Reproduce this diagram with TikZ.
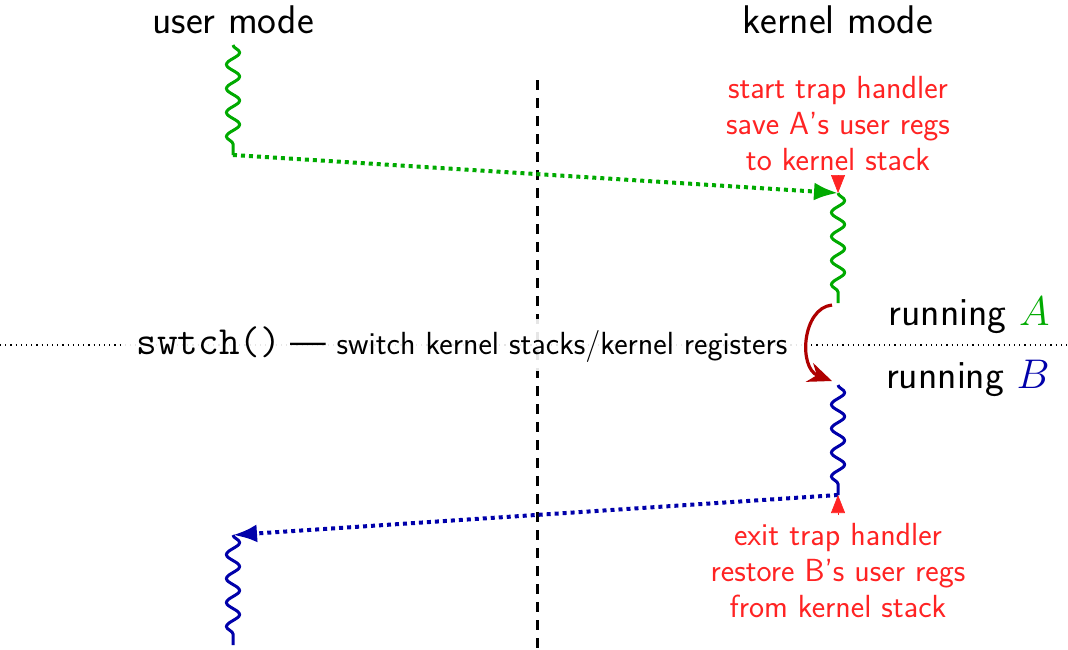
\documentclass[tikz,border=0pt]{standalone}
\usetikzlibrary{decorations.pathmorphing,arrows.meta,calc}
\renewcommand\familydefault{\sfdefault}
\definecolor{ugreen}{RGB}{0,170,0}
\definecolor{ublue}{RGB}{0,0,170}
\definecolor{ured}{RGB}{255,35,35}
\definecolor{dred}{RGB}{175,0,0}
\begin{document}
\begin{tikzpicture}[x=0.5pt,y=-0.5pt,
  big/.style={font=\fontsize{20}{24}\selectfont, inner sep=0pt},
  note/.style={font=\fontsize{16}{18}\selectfont, align=center, text=ured, inner sep=0pt},
  snakeline/.style={line width=1.5pt, decorate, decoration={snake, segment length=12pt, amplitude=3.3pt, post length=1pt}},
  flow/.style={line width=2pt, dotted, -{Latex[length=12pt,width=9pt]}},
  marker/.style={draw=ured, line width=0.3pt, -{Triangle[length=9pt,width=7pt,fill=ured]}}
]
\useasboundingbox (0,0) rectangle (1068,649);

% headings
\node[big] (user) at (233,20) {user mode};
\node[big] (kern) at (838,20) {kernel mode};

% separator
\coordinate (sepL) at (0,345);
\coordinate (sepR) at (1068,345);
\draw[line width=0.6pt, dotted, black] (sepL) -- (sepR);

% mode boundary
\coordinate (bt) at (537,80);
\coordinate (bb) at (537,649);
\draw[line width=1.5pt, dash pattern=on 5pt off 4pt] (bt) -- (bb);

% swtch label
\node[big, fill=white, fill opacity=0.9, text opacity=1, inner xsep=8pt, inner ysep=4pt] (sw) at (462,345)
  {\texttt{swtch()}{\fontsize{16}{18}\selectfont\ \fontsize{19}{18}\selectfont---\fontsize{16}{18}\selectfont\ switch kernel stacks/kernel registers}};

% running labels
\node[big, anchor=east] (ra) at (1050,315) {running \textcolor{ugreen}{$A$}};
\node[big, anchor=east] (rb) at (1050,378) {running \textcolor{ublue}{$B$}};

% threads
\coordinate (g1t) at (233,45);
\coordinate (g1b) at (233,155);
\coordinate (g2t) at (838,193);
\coordinate (g2b) at (838,303);
\coordinate (b1t) at (838,385);
\coordinate (b1b) at (838,495);
\coordinate (b2t) at (233,535);
\coordinate (b2b) at (233,645);

\draw[snakeline, ugreen] (g1t) -- (g1b);
\draw[snakeline, ugreen] (g2t) -- (g2b);
\draw[snakeline, ublue] (b1t) -- (b1b);
\draw[snakeline, ublue] (b2t) -- (b2b);

\draw[flow, ugreen] (g1b) -- (g2t);
\draw[flow, ublue] (b1b) -- (b2t);

% context switch arrow
\draw[dred, line width=1.6pt, -{Stealth[length=12pt,width=10pt]}] ($(g2b)+(-6,2)$) .. controls (802,308) and (798,368) .. ($(b1t)+(-6,-4)$);

% notes
\node[note] (start) at (838,124) {start trap handler\\save A's user regs\\to kernel stack};
\node[note] (exit) at (838,571) {exit trap handler\\restore B's user regs\\from kernel stack};

\coordinate (m1s) at (838,175);
\draw[marker] (m1s) -- (g2t);
\coordinate (m2s) at (838,515);
\draw[marker] (m2s) -- (b1b);
\end{tikzpicture}
\end{document}
